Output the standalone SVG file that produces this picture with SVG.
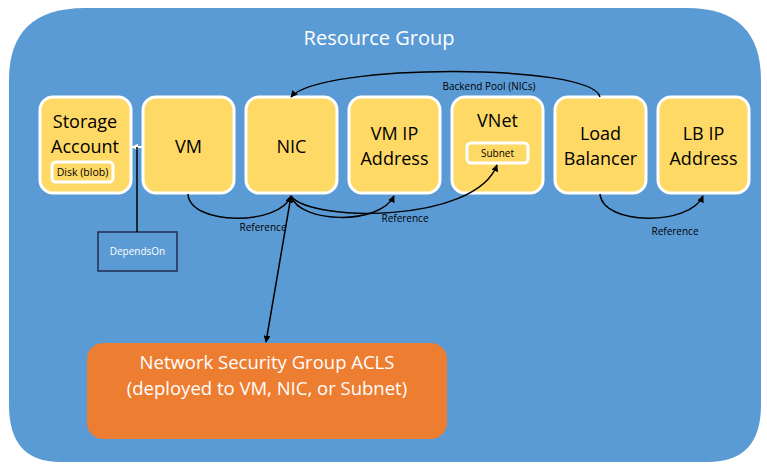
<svg xmlns="http://www.w3.org/2000/svg" width="767" height="470" viewBox="0 0 767 470">
<defs>
<marker id="ah" viewBox="0 0 10 10" refX="9" refY="5" markerWidth="7" markerHeight="7" orient="auto-start-reverse" markerUnits="userSpaceOnUse"><path d="M0,0 L10,5 L0,10 z" fill="#000"/></marker>
<marker id="wh" viewBox="0 0 10 10" refX="9" refY="5" markerWidth="7" markerHeight="7" orient="auto" markerUnits="userSpaceOnUse"><path d="M0,0 L10,5 L0,10 z" fill="#fff"/></marker>
<style>
.node{fill:#FFD966;stroke:#fff;stroke-width:3}
.t{font-family:"Open Sans","Liberation Sans",sans-serif;fill:#000;text-anchor:middle}
.big{font-size:18px}
.sm{font-size:10px}
.w{fill:#fff}
.c{fill:none;stroke:#000;stroke-width:1.5}
</style>
</defs>
<rect width="767" height="470" fill="#fff"/>
<g id="resource-group">
<path d="M85,8 L687,8 Q761,8 761,80 L761,405 Q761,462 708,462 L60,462 Q9,462 9,405 L9,80 Q9,8 85,8 Z" fill="#5B9BD5"/>
<text class="t w" x="379" y="45" font-size="20">Resource Group</text>
</g>
<g id="storage-account">
<rect class="node" x="40" y="97" width="91" height="96" rx="13"/>
<text class="t big" x="85" y="128">Storage</text>
<text class="t big" x="85" y="153">Account</text>
<rect x="52" y="162" width="61" height="20" rx="4" fill="#FFD966" stroke="#fff" stroke-width="3"/>
<text class="t" x="82.5" y="176" font-size="10.5">Disk (blob)</text>
</g>
<g id="vm">
<rect class="node" x="143" y="97" width="91" height="96" rx="13"/>
<text class="t big" x="188.5" y="153">VM</text>
</g>
<g id="nic">
<rect class="node" x="246" y="97" width="91" height="96" rx="13"/>
<text class="t big" x="291.5" y="153">NIC</text>
</g>
<g id="vm-ip">
<rect class="node" x="349" y="97" width="91" height="96" rx="13"/>
<text class="t big" x="394.5" y="140">VM IP</text>
<text class="t big" x="394.5" y="165">Address</text>
</g>
<g id="vnet">
<rect class="node" x="452" y="97" width="91" height="96" rx="13"/>
<text class="t big" x="497.5" y="127">VNet</text>
<rect x="467" y="143" width="61" height="20" rx="4" fill="#FFD966" stroke="#fff" stroke-width="3"/>
<text class="t" x="497.5" y="157" font-size="10">Subnet</text>
</g>
<g id="load-balancer">
<rect class="node" x="555" y="97" width="91" height="96" rx="13"/>
<text class="t big" x="600.5" y="140">Load</text>
<text class="t big" x="600.5" y="165">Balancer</text>
</g>
<g id="lb-ip">
<rect class="node" x="658" y="97" width="91" height="96" rx="13"/>
<text class="t big" x="703.5" y="140">LB IP</text>
<text class="t big" x="703.5" y="165">Address</text>
</g>
<g id="depends-on">
<rect x="98" y="232" width="79" height="39" fill="#5B9BD5" stroke="#1F2D4D" stroke-width="1.5"/>
<text class="t sm w" x="137.5" y="255">DependsOn</text>
</g>
<g id="nsg">
<rect x="87" y="343" width="360" height="96" rx="16" fill="#ED7D31"/>
<text class="t w" x="267" y="369" font-size="18.5">Network Security Group ACLS</text>
<text class="t w" x="267" y="395" font-size="18.5">(deployed to VM, NIC, or Subnet)</text>
</g>
<g id="connectors">
<path d="M143,147 L132,147" stroke="#fff" stroke-width="2" fill="none" marker-end="url(#wh)"/>
<path d="M137,147 L137,232" stroke="#000" stroke-width="1.5" fill="none"/>
<path class="c" d="M600,97 C592,63 320,63 291,97" marker-end="url(#ah)"/>
<text class="t sm" x="489" y="90">Backend Pool (NICs)</text>
<path class="c" d="M188,194 C190,226 280,226 291,196" marker-end="url(#ah)"/>
<text class="t sm" x="263" y="231">Reference</text>
<path class="c" d="M291,196 C300,224 380,225 394,196" marker-end="url(#ah)"/>
<path class="c" d="M291,196 C310,222 475,224 497,165" marker-end="url(#ah)"/>
<text class="t sm" x="405" y="222">Reference</text>
<path class="c" d="M600,194 C603,226 690,226 703,196" marker-end="url(#ah)"/>
<text class="t sm" x="675" y="235">Reference</text>
<path class="c" d="M291,196 L266,342" marker-start="url(#ah)" marker-end="url(#ah)"/>
</g>
</svg>
